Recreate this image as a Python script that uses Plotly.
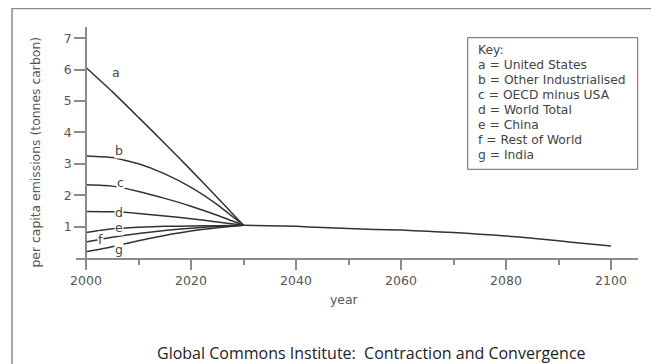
import plotly.graph_objects as go

# ---- data ----
years_conv = [2000, 2005, 2010, 2015, 2020, 2025, 2030]
series_a = [6.07, 5.30, 4.48, 3.65, 2.80, 1.93, 1.04]   # United States
series_b = [3.25, 3.20, 3.00, 2.68, 2.25, 1.70, 1.04]   # Other Industrialised
series_c = [2.33, 2.29, 2.12, 1.90, 1.65, 1.36, 1.04]   # OECD minus USA
series_d = [1.48, 1.47, 1.42, 1.34, 1.25, 1.15, 1.04]   # World Total
series_e = [0.81, 0.93, 0.98, 1.01, 1.02, 1.03, 1.04]   # China
series_f = [0.51, 0.66, 0.78, 0.88, 0.95, 1.00, 1.04]   # Rest of World
series_g = [0.20, 0.36, 0.55, 0.72, 0.86, 0.96, 1.04]   # India

years_tail = [2030, 2040, 2045, 2050, 2055, 2060, 2065, 2070, 2075, 2080, 2085, 2090, 2095, 2100]
values_tail = [1.04, 1.01, 0.97, 0.94, 0.91, 0.89, 0.85, 0.81, 0.76, 0.70, 0.63, 0.55, 0.46, 0.38]

letters = ["a", "b", "c", "d", "e", "f", "g"]
letter_x = [2005.8, 2006.3, 2006.6, 2006.3, 2006.3, 2002.7, 2006.3]
letter_y = [5.90, 3.41, 2.42, 1.45, 0.97, 0.60, 0.27]

key_lines = ["Key:", "a = United States", "b = Other Industrialised", "c = OECD minus USA",
             "d = World Total", "e = China", "f = Rest of World", "g = India"]

x_ticks = [2000, 2020, 2040, 2060, 2080, 2100]
y_ticks = [1, 2, 3, 4, 5, 6, 7]

LINE = "#333333"
AXIS = "#8a8a8a"
TXT = "#555555"

# plot-area geometry in pixels (used to convert layout positions to paper fractions)
PW, PH = 562, 231


def px(xpix):
    return (xpix - 68) / PW


def py(ypix):
    return (250 - ypix) / PH


fig = go.Figure()

# outer frame
fig.add_shape(type="rect", xref="paper", yref="paper", x0=px(4), x1=px(647), y0=py(370), y1=py(0.5),
              line=dict(color="#8a8a8a", width=1.5), fillcolor="rgba(0,0,0,0)", layer="below")

for s in [series_a, series_b, series_c, series_d, series_e, series_f, series_g]:
    fig.add_trace(go.Scatter(x=years_conv, y=s, mode="lines",
                             line=dict(color=LINE, width=1.5, shape="spline", smoothing=0.5),
                             showlegend=False, hoverinfo="skip"))
fig.add_trace(go.Scatter(x=years_tail, y=values_tail, mode="lines",
                         line=dict(color=LINE, width=1.5, shape="spline", smoothing=0.5),
                         showlegend=False, hoverinfo="skip"))

for t, lx, ly in zip(letters, letter_x, letter_y):
    fig.add_annotation(x=lx, y=ly, xref="x", yref="y", text=t, showarrow=False,
                       xanchor="center", yanchor="middle",
                       font=dict(family="DejaVu Sans", size=12.5, color="#444444"),
                       bgcolor="white", borderpad=0)

# key box
fig.add_shape(type="rect", xref="paper", yref="paper", x0=px(459.7), x1=px(629.7), y0=py(161.3), y1=py(29.7),
              line=dict(color="#666666", width=1), fillcolor="white", layer="above")
for i, line in enumerate(key_lines):
    fig.add_annotation(xref="paper", yref="paper", x=px(467.5), y=py(42 + 15 * i),
                       xanchor="left", yanchor="middle", text=line, align="left", showarrow=False,
                       font=dict(family="DejaVu Sans", size=12.3, color="#444444"))

# axis titles and caption
fig.add_annotation(xref="paper", yref="paper", x=px(27), y=py(144.5), xanchor="center", yanchor="middle",
                   text="per capita emissions (tonnes carbon)",
                   textangle=-90, showarrow=False, font=dict(family="DejaVu Sans", size=12.4, color=TXT))
fig.add_annotation(xref="paper", yref="paper", x=px(336), y=py(291), xanchor="center", yanchor="middle",
                   text="year", showarrow=False,
                   font=dict(family="DejaVu Sans", size=12.4, color=TXT))
fig.add_annotation(xref="paper", yref="paper", x=px(363), y=py(344.5), xanchor="center", yanchor="middle",
                   text="Global Commons Institute:  Contraction and Convergence", showarrow=False,
                   font=dict(family="Open Sans", size=16, color="#222222"))

fig.update_layout(
    width=651, height=356,
    margin=dict(l=68, r=21, t=19, b=106),
    paper_bgcolor="white", plot_bgcolor="white",
    xaxis=dict(range=[1998.095, 2105.14], showline=True, linecolor=AXIS, linewidth=1.5,
               tickvals=x_ticks, ticks="outside", ticklen=10, tickcolor=AXIS, tickwidth=1.5,
               minor=dict(dtick=10, tick0=2000, ticks="outside", ticklen=5, tickcolor=AXIS, tickwidth=1.5),
               showgrid=False, zeroline=False,
               tickfont=dict(family="DejaVu Sans", size=12.5, color=TXT)),
    yaxis=dict(range=[0, 7.36], anchor="free", position=10 / PW, showline=True, linecolor=AXIS, linewidth=1.5,
               tickvals=y_ticks, ticks="outside", ticklen=11, tickcolor=AXIS, tickwidth=1.5,
               showgrid=False, zeroline=False,
               tickfont=dict(family="DejaVu Sans", size=12.5, color=TXT)),
)

fig.write_html("out.html")
